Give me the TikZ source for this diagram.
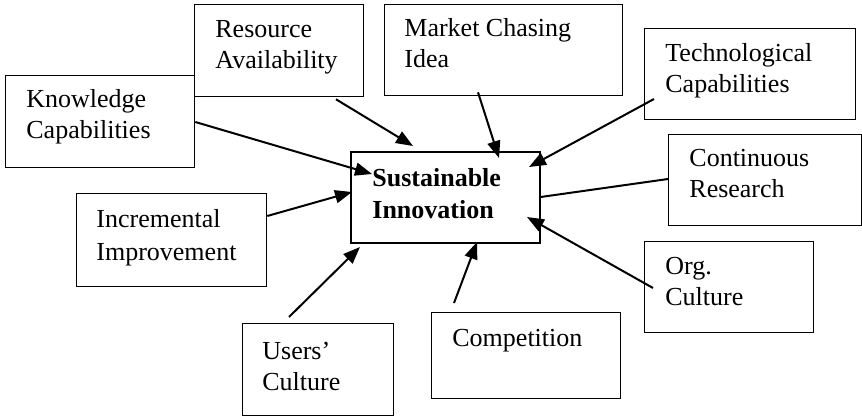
\documentclass[tikz,border=0pt]{standalone}
\usepackage{fontspec}
\setmainfont{Liberation Serif}
\usetikzlibrary{arrows.meta}

\begin{document}
\begin{tikzpicture}[x=0.5pt,y=-0.5pt,
  factorbox/.style={draw=black,line width=0.65pt,rectangle,inner sep=0pt,anchor=north west},
  corebox/.style={factorbox,line width=0.85pt},
  % texts are placed by the baseline of their last line
  boxtext/.style={anchor=base west,inner sep=0pt,align=left,
    font=\fontsize{13pt}{15.5pt}\selectfont},
  coretext/.style={boxtext,font=\fontsize{13pt}{16pt}\selectfont\bfseries},
  influence/.style={line width=1pt,-{Triangle[length=8.5pt,width=6.5pt]}},
  link/.style={line width=1pt}
]
\useasboundingbox (0,0) rectangle (862,417);

% central concept
\node[corebox,minimum width=94.5pt,minimum height=45.5pt] (sus) at (350,151) {};
\node[coretext] (sustxt) at (372,218) {Sustainable\\Innovation};

% surrounding factors
\node[factorbox,minimum width=84.5pt,minimum height=46pt] (res) at (194,4) {};
\node[boxtext] (restxt) at (215,69) {Resource\\Availability};

\node[factorbox,minimum width=119pt,minimum height=45.5pt] (mkt) at (384,4) {};
\node[boxtext] (mkttxt) at (404,68) {Market Chasing\\Idea};

\node[factorbox,minimum width=105.5pt,minimum height=45.5pt] (tech) at (644,28) {};
\node[boxtext] (techtxt) at (665,93) {Technological\\Capabilities};

\node[factorbox,minimum width=94.5pt,minimum height=46pt] (know) at (5,75) {};
\node[boxtext] (knowtxt) at (26,139) {Knowledge\\Capabilities};

\node[factorbox,minimum width=96.5pt,minimum height=45.5pt] (cont) at (668,134) {};
\node[boxtext] (conttxt) at (689,198) {Continuous\\Research};

\node[factorbox,minimum width=95pt,minimum height=46.5pt] (inc) at (76,193) {};
\node[boxtext,font=\fontsize{13pt}{16.5pt}\selectfont] (inctxt) at (96,260) {Incremental\\Improvement};

\node[factorbox,minimum width=84.5pt,minimum height=45.5pt] (org) at (644,241) {};
\node[boxtext] (orgtxt) at (665,305) {Org.\\Culture};

\node[factorbox,minimum width=75.5pt,minimum height=46pt] (users) at (242,323) {};
\node[boxtext] (userstxt) at (262,390) {Users’\\Culture};

\node[factorbox,minimum width=94.5pt,minimum height=43pt] (comp) at (431,312) {};
\node[boxtext] (comptxt) at (452,346) {Competition};

% influences on the central concept
\draw[influence] ([shift={(142,2)}]res.south west) -- ([shift={(63,-5)}]sus.north west);
\draw[influence] ([shift={(0,47)}]know.north east) -- ([shift={(22,23)}]sus.north west);
\draw[influence] ([shift={(0,23)}]inc.north east) -- ([shift={(2,41)}]sus.north west);
\draw[influence] ([shift={(94,-4)}]mkt.south west) -- ([shift={(149,7)}]sus.north west);
\draw[influence] ([shift={(10,71)}]tech.north west) -- ([shift={(179,16)}]sus.north west);
\draw[link] ([shift={(0,46)}]sus.north east) -- ([shift={(0,45)}]cont.north west);
\draw[influence] ([shift={(9,47)}]org.north west) -- ([shift={(177,66)}]sus.north west);
\draw[influence] ([shift={(23,-9)}]comp.north west) -- ([shift={(127,91)}]sus.north west);
\draw[influence] ([shift={(47,-6)}]users.north west) -- ([shift={(10,96)}]sus.north west);
\end{tikzpicture}
\end{document}
